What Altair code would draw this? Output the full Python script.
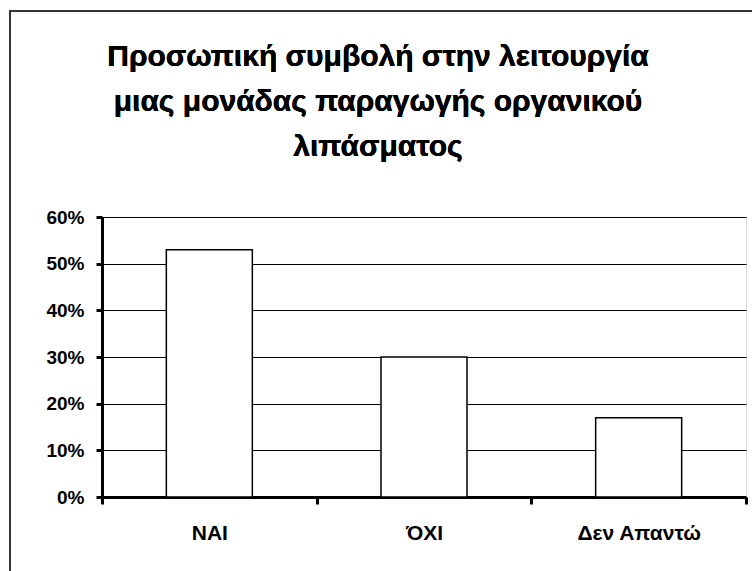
import altair as alt
import pandas as pd

categories = ["ΝΑΙ", "ΌΧΙ", "Δεν Απαντώ"]
values = [0.53, 0.30, 0.17]
title_lines = ["Προσωπική συμβολή στην λειτουργία",
               "μιας μονάδας παραγωγής οργανικού",
               "λιπάσματος"]
y_ticks = [0, 0.1, 0.2, 0.3, 0.4, 0.5, 0.6]

df = pd.DataFrame({"cat": categories, "val": values})

FONT = "Liberation Sans"

border = alt.Chart(df).mark_rect(fill=None, stroke="#333333", strokeWidth=1.5, clip=False).encode(
    x=alt.value(-92), x2=alt.value(720),
    y=alt.value(-206), y2=alt.value(420),
)

title = alt.Chart(df).mark_text(
    text=title_lines, font=FONT, fontSize=30, fontWeight="bold", color="black",
    lineHeight=45, align="center", baseline="alphabetic",
).encode(x=alt.value(276), y=alt.value(-151))

bars = alt.Chart(df).mark_bar(size=86, fill="white", stroke="black", strokeWidth=1.5).encode(
    x=alt.X("cat:N", sort=categories, title=None,
            scale=alt.Scale(paddingInner=0, paddingOuter=0),
            axis=alt.Axis(labelAngle=0, tickBand="extent", domainColor="black", domainWidth=3,
                          tickColor="black", tickWidth=3, tickSize=7, labelPadding=18,
                          labelFont=FONT, labelFontSize=21, labelFontWeight="bold",
                          labelColor="black", grid=False)),
    y=alt.Y("val:Q", title=None,
            scale=alt.Scale(domain=[0, 0.6], nice=False),
            axis=alt.Axis(format=".0%", values=y_ticks, domainColor="black", domainWidth=3,
                          tickColor="black", tickWidth=3, tickSize=6, labelPadding=12,
                          labelFont=FONT, labelFontSize=19, labelFontWeight="bold",
                          labelColor="black", grid=True, gridColor="black", gridWidth=1,
                          gridOpacity=1)),
)

chart = alt.layer(border, title, bars).properties(
    width=644, height=280,
    autosize=alt.AutoSizeParams(type="none"),
    padding={"left": 102, "top": 217, "right": 6, "bottom": 74},
).configure_view(stroke="#808080", strokeWidth=1.5).configure(background="white")

chart.save("out.html", embed_options={"renderer": "svg", "actions": False})
